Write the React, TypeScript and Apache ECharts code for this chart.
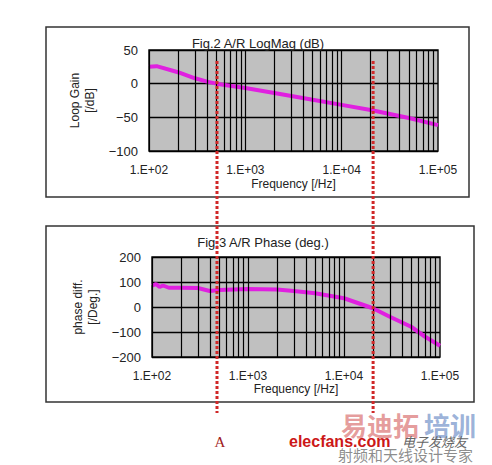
import React, { useEffect, useRef } from "react";
import * as echarts from "echarts";

const magFreq = [100, 120, 200, 300, 400, 500, 1000, 2000, 5000, 10000, 20000, 50000, 100000];
const magValues = [25, 26, 17, 8, 3, 0, -6.5, -14, -24, -31.5, -39, -51, -61.5];

const phaseFreq = [100, 110, 120, 130, 150, 200, 300, 400, 500, 1000, 2000, 3000, 5000, 10000, 20000, 30000, 50000, 70000, 100000];
const phaseValues = [85, 92, 80, 86, 77, 77, 76, 64, 68, 72, 70, 64, 55, 35, -5, -39, -79, -119, -155];

const markerFreqs = [508, 21200];
const markerLabel = "A";

const decades = [100, 1000, 10000];
const multipliers = [1, 2, 3, 4, 5, 6, 7, 8, 9];

const FONT = "Liberation Sans";

function gridLines() {
  const out: any[] = [];
  decades.forEach((d) => multipliers.forEach((m) => out.push({ xAxis: d * m })));
  return out;
}

function fmtX(v: number) {
  const e = Math.round(Math.log10(v));
  return "1.E+" + String(e).padStart(2, "0");
}
function fmtY(v: number) {
  return String(v).replace("-", "\u2212");
}

export default function App() {
  const ref = useRef<HTMLDivElement>(null);
  useEffect(() => {
    if (!ref.current) return;
    const chart = echarts.init(ref.current, null, { renderer: "svg" });
    const xAxisBase = (gi: number, gap: number) => ({
      type: "log",
      logBase: 10,
      gridIndex: gi,
      min: 100,
      max: 100000,
      name: "Frequency [/Hz]",
      nameLocation: "middle",
      nameGap: gap,
      nameTextStyle: { fontFamily: FONT, fontSize: 12, color: "#222" },
      axisLine: { show: false },
      axisTick: { show: false },
      splitLine: { show: false },
      axisLabel: { formatter: fmtX, fontFamily: FONT, fontSize: 12, color: "#222", margin: 13 },
    });
    const yAxisBase = (gi: number, min: number, max: number, interval: number, name: string, gap: number) => ({
      type: "value",
      gridIndex: gi,
      min,
      max,
      interval,
      name,
      nameLocation: "middle",
      nameRotate: 90,
      nameGap: gap,
      nameTextStyle: { fontFamily: FONT, fontSize: 12, color: "#222", lineHeight: 15 },
      axisLine: { show: false },
      axisTick: { show: false },
      splitLine: { show: true, lineStyle: { color: "#000", width: 1.3 } },
      axisLabel: { formatter: fmtY, fontFamily: FONT, fontSize: 13, color: "#222", margin: 11 },
    });
    const gridMark = (xi: number, yi: number) => ({
      type: "line",
      xAxisIndex: xi,
      yAxisIndex: yi,
      data: [],
      z: 1,
      silent: true,
      markLine: {
        silent: true,
        symbol: ["none", "none"],
        label: { show: false },
        lineStyle: { color: "#000", width: 1.2, type: "solid" },
        data: gridLines(),
      },
    });
    chart.setOption({
      animation: false,
      backgroundColor: "#fff",
      grid: [
        { left: 149, right: 54, top: 50, height: 101, show: true, backgroundColor: "#c0c0c0", borderColor: "#111", borderWidth: 1.5 },
        { left: 152, right: 52, top: 257, height: 100, show: true, backgroundColor: "#c0c0c0", borderColor: "#111", borderWidth: 1.5 },
      ],
      xAxis: [xAxisBase(0, 27), xAxisBase(1, 25)],
      yAxis: [
        yAxisBase(0, -100, 50, 50, "Loop Gain\n[/dB]", 44),
        yAxisBase(1, -200, 200, 100, "phase diff.\n[/Deg.]", 45),
      ],
      series: [
        gridMark(0, 0),
        gridMark(1, 1),
        {
          type: "line",
          xAxisIndex: 0,
          yAxisIndex: 0,
          z: 3,
          showSymbol: false,
          data: magFreq.map((f, i) => [f, magValues[i]]),
          lineStyle: { color: "#e020e0", width: 4 },
        },
        {
          type: "line",
          xAxisIndex: 1,
          yAxisIndex: 1,
          z: 3,
          showSymbol: false,
          data: phaseFreq.map((f, i) => [f, phaseValues[i]]),
          lineStyle: { color: "#e020e0", width: 4 },
        },
      ],
    });

    const mx = markerFreqs.map((f) => chart.convertToPixel({ xAxisIndex: 0 } as any, f) as number);
    const graphics: any[] = [
      { type: "rect", shape: { x: 46, y: 27, width: 423, height: 170 }, style: { fill: "none", stroke: "#333", lineWidth: 1.5 }, z: 0 },
      { type: "rect", shape: { x: 46, y: 226, width: 428, height: 176 }, style: { fill: "none", stroke: "#333", lineWidth: 1.5 }, z: 0 },
      { type: "text", x: 258, y: 43, style: { text: "Fig.2 A/R LogMag (dB)", font: `13px '${FONT}'`, fill: "#222", align: "center", verticalAlign: "middle" }, z: 5 },
      { type: "text", x: 263, y: 242, style: { text: "Fig.3 A/R Phase (deg.)", font: `13px '${FONT}'`, fill: "#222", align: "center", verticalAlign: "middle" }, z: 5 },
    ];
    mx.forEach((x) => {
      graphics.push({
        type: "line",
        shape: { x1: x, y1: 61, x2: x, y2: 413 },
        style: { stroke: "#d02828", lineWidth: 3, lineDash: [3, 2] },
        z: 50,
      });
    });
    graphics.push(
      { type: "text", x: mx[0] + 3, y: 442, style: { text: markerLabel, font: "15px 'Liberation Serif'", fill: "#a02020", align: "center", verticalAlign: "middle" }, z: 50 },
      { type: "text", x: 341, y: 424, style: { text: "易迪拓", font: "bold 26px 'Noto Sans CJK SC'", fill: "rgba(225,140,140,0.85)", align: "left", verticalAlign: "middle" }, z: 40 },
      { type: "text", x: 424, y: 424, style: { text: "培训", font: "bold 26px 'Noto Sans CJK SC'", fill: "rgba(140,165,210,0.85)", align: "left", verticalAlign: "middle" }, z: 40 },
      { type: "text", x: 289, y: 441, style: { text: "elecfans.com", font: "bold 16px 'Liberation Sans'", fill: "#cc1818", align: "left", verticalAlign: "middle" }, z: 45 },
      { type: "text", x: 402, y: 441, style: { text: "电子发烧友", font: "italic 13px 'Noto Sans CJK SC'", fill: "#666", align: "left", verticalAlign: "middle" }, z: 45 },
      { type: "text", x: 338, y: 454, style: { text: "射频和天线设计专家", font: "15px 'Noto Sans CJK SC'", fill: "rgba(120,120,120,0.85)", align: "left", verticalAlign: "middle" }, z: 44 }
    );
    chart.setOption({ graphic: graphics });
    return () => chart.dispose();
  }, []);
  return <div ref={ref} style={{ position: "absolute", left: 0, top: 0, width: 492, height: 465 }} />;
}
